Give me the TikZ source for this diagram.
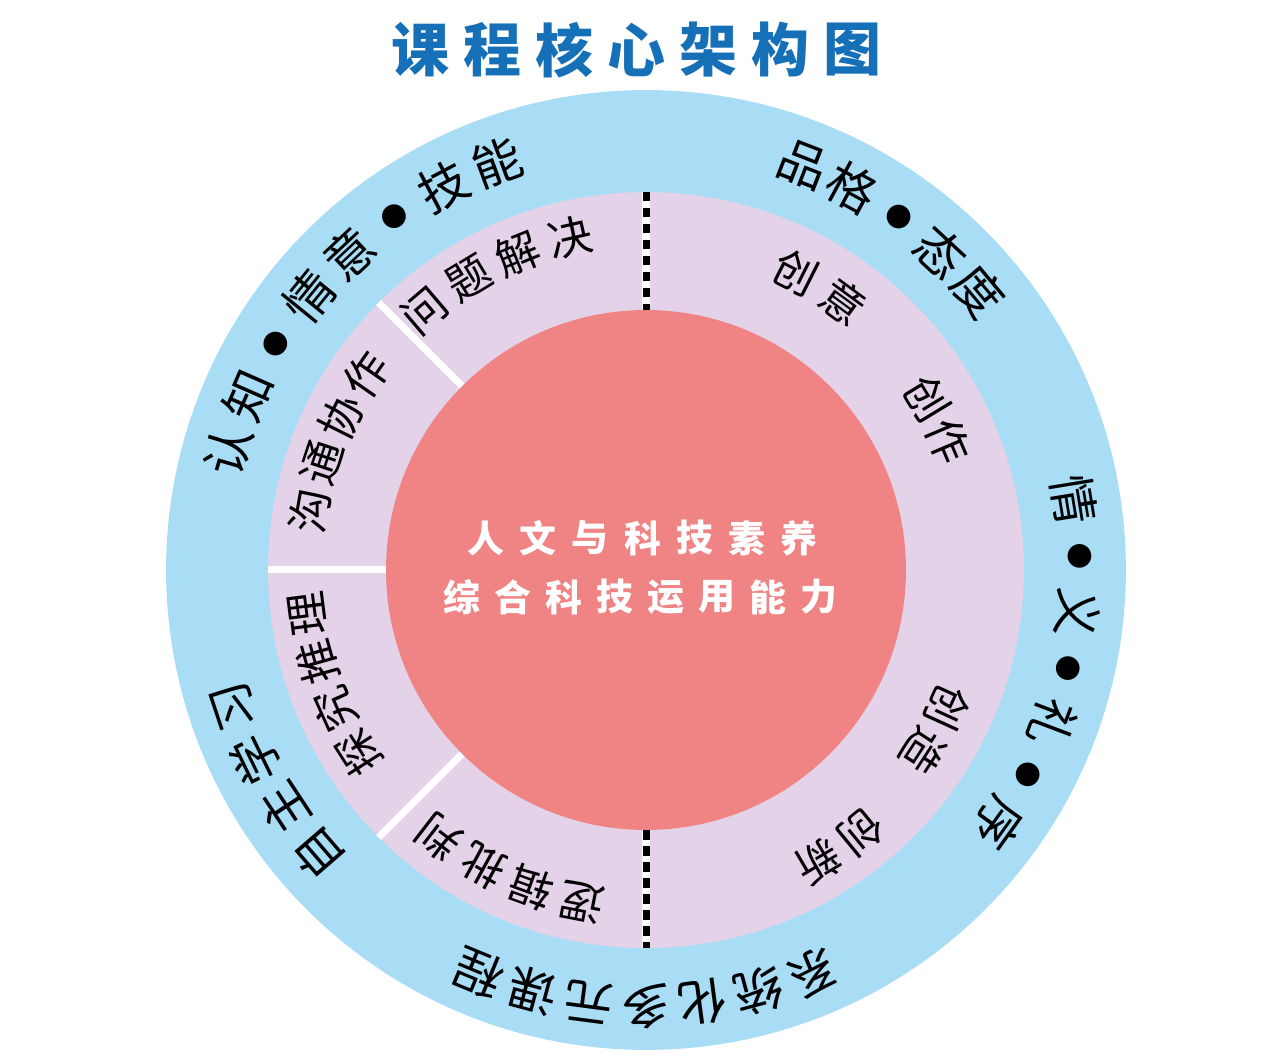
\documentclass[tikz,border=0pt]{standalone}
\usepackage{fontspec}
\newfontfamily\cjk{Noto Sans CJK SC}
\newcommand\sepdot{{\fontsize{15}{15}\selectfont ●}}
\definecolor{skyring}{RGB}{169,221,246}
\definecolor{lilacring}{RGB}{227,210,232}
\definecolor{corered}{RGB}{240,131,131}
\definecolor{titleblue}{RGB}{22,112,184}
\begin{document}
\begin{tikzpicture}[x=0.02cm,y=0.02cm]
        \tikzstyle{disc}=[circle,inner sep=0pt]
        \tikzstyle{outertext}=[inner sep=0pt,font=\cjk\fontsize{28}{28}\selectfont]
        \tikzstyle{innertext}=[inner sep=0pt,font=\cjk\fontsize{25}{25}\selectfont]
        \tikzstyle{coretext}=[inner sep=0pt,text=white,font=\cjk\bfseries\fontsize{21}{21}\selectfont]
        \tikzstyle{titletext}=[inner sep=0pt,text=titleblue,font=\cjk\bfseries\fontsize{33}{33}\selectfont]
        \tikzstyle{divider}=[draw=white,line width=0.14cm]
        \tikzstyle{dashdiv}=[draw=black,line width=0.14cm,dash pattern=on 0.19cm off 0.13cm,
                             preaction={draw=white,line width=0.17cm,solid}]
        \useasboundingbox (-646,-490) rectangle (618,570);
       \begin{scope}
         % three discs
         \node [disc,fill=skyring,minimum size=19.2cm] (outer) at (0,0) {};
         \node [disc,fill=lilacring,minimum size=15.12cm] (ring) at (0,0) {};
         \node [disc,fill=corered,minimum size=10.4cm] (core) at (0,0) {};
         % sector lines
         \path[divider] (core.135) -- (ring.135);
         \path[divider] (core.180) -- (ring.180);
         \path[divider] (core.225) -- (ring.225);
         \path[dashdiv] (ring.90) -- (core.90);
         \path[dashdiv] (core.270) -- (ring.270);
       \end{scope}
       % title
       \foreach \c [count=\i] in {课,程,核,心,架,构,图}
         \node [titletext] (title\i) at ({-10+72*(\i-4)},520) {\c};
       % centre
       \foreach \c [count=\i] in {人,文,与,科,技,素,养}
         \node [coretext] (upper\i) at ({-3.5+52.2*(\i-4)},32) {\c};
       \foreach \c [count=\i] in {综,合,科,技,运,用,能,力}
         \node [coretext] (lower\i) at ({-5.5+51*(\i-4.5)},-27) {\c};
       % outer ring
       \foreach \c [count=\i, evaluate=\i as \a using 164-7.7*(\i-1)] in {认,知,\sepdot,情,意,\sepdot,技,能}
         \node [outertext,rotate=\a-90] (skill\i) at (\a:434) {\c};
       \foreach \c [count=\i, evaluate=\i as \a using 68.8-7.2*(\i-1)] in {品,格,\sepdot,态,度}
         \node [outertext,rotate=\a-90] (moral\i) at (\a:434) {\c};
       \foreach \c [count=\i, evaluate=\i as \a using 9.3-7.5*(\i-1)] in {情,\sepdot,义,\sepdot,礼,\sepdot,序}
         \node [outertext,rotate=\a-90] (rite\i) at (\a:434) {\c};
       \foreach \c [count=\i, evaluate=\i as \a using 220.9-7.5*(\i-1)] in {自,主,学,习}
         \node [outertext,rotate=\a-90] (self\i) at (\a:434) {\c};
       \foreach \c [count=\i, evaluate=\i as \a using 292.5-7.5*(\i-1)] in {系,统,化,多,元,课,程}
         \node [outertext,rotate=\a-90] (course\i) at (\a:436) {\c};
       % inner ring, left
       \foreach \c [count=\i, evaluate=\i as \a using 130.5-9.2*(\i-1)] in {问,题,解,决}
         \node [innertext,rotate=\a-90] (solve\i) at (\a:341) {\c};
       \foreach \c [count=\i, evaluate=\i as \a using 170-8.3*(\i-1)] in {沟,通,协,作}
         \node [innertext,rotate=\a-90] (team\i) at (\a:341) {\c};
       \foreach \c [count=\i, evaluate=\i as \a using 212.5-8.4*(\i-1)] in {探,究,推,理}
         \node [innertext,rotate=\a-90] (probe\i) at (\a:341) {\c};
       \foreach \c [count=\i, evaluate=\i as \a using 259-8.9*(\i-1)] in {逻,辑,批,判}
         \node [innertext,rotate=\a-90] (logic\i) at (\a:338) {\c};
       % inner ring, right
       \foreach \c [count=\i, evaluate=\i as \a using 63.2-9.5*(\i-1)] in {创,意}
         \node [innertext,rotate=\a-90] (idea\i) at (\a:333) {\c};
       \foreach \c [count=\i, evaluate=\i as \a using 31.3-8.3*(\i-1)] in {创,作}
         \node [innertext,rotate=\a-90] (make\i) at (\a:329) {\c};
       \foreach \c [count=\i, evaluate=\i as \a using -24.5-8.6*(\i-1)] in {创,造}
         \node [innertext,rotate=\a-90] (build\i) at (\a:331) {\c};
       \foreach \c [count=\i, evaluate=\i as \a using -50.6-8.8*(\i-1)] in {创,新}
         \node [innertext,rotate=\a-90] (novel\i) at (\a:339) {\c};
      \end{tikzpicture}
\end{document}
